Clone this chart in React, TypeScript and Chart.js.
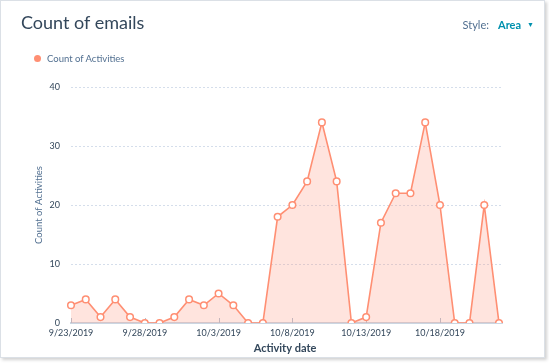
import React, { useEffect, useRef } from "react";
import { Chart, registerables } from "chart.js";

Chart.register(...registerables);

const dates = [
  "9/23/2019", "9/24/2019", "9/25/2019", "9/26/2019", "9/27/2019", "9/28/2019",
  "9/29/2019", "9/30/2019", "10/1/2019", "10/2/2019", "10/3/2019", "10/4/2019",
  "10/5/2019", "10/6/2019", "10/7/2019", "10/8/2019", "10/9/2019", "10/10/2019",
  "10/11/2019", "10/12/2019", "10/13/2019", "10/14/2019", "10/15/2019", "10/16/2019",
  "10/17/2019", "10/18/2019", "10/19/2019", "10/20/2019", "10/21/2019", "10/22/2019",
];
const activityCounts = [
  3, 4, 1, 4, 1, 0, 0, 1, 4, 3, 5, 3, 0, 0, 18, 20, 24, 34, 24, 0, 1, 17, 22, 22, 34, 20, 0, 0, 20, 0,
];
const yTicks = [0, 10, 20, 30, 40];
const labelEvery = 5;
const seriesName = "Count of Activities";

const LINE = "#ff8f73";
const FILL = "rgba(255, 143, 115, 0.24)";
const TEXT = "#33475b";
const SUB = "#516f90";
const GRID = "#d5deeb";
const AXIS = "#cbd6e2";
const FONT = "Lato, 'Open Sans', sans-serif";
const EXTEND = 4;

const extras = {
  id: "extras",
  beforeDatasetsDraw(chart: any) {
    const x = chart.scales.x;
    const y = chart.scales.y;
    const ctx = chart.ctx;
    const right = chart.chartArea.right;
    ctx.save();
    ctx.strokeStyle = GRID;
    ctx.lineWidth = 1;
    ctx.setLineDash([2, 2]);
    yTicks.forEach((v) => {
      if (v === 0) return;
      const py = Math.round(y.getPixelForValue(v)) + 0.5;
      ctx.beginPath();
      ctx.moveTo(right, py);
      ctx.lineTo(right + EXTEND, py);
      ctx.stroke();
    });
    ctx.setLineDash([]);
    const base = y.getPixelForValue(0);
    ctx.strokeStyle = AXIS;
    ctx.lineWidth = 2;
    ctx.beginPath();
    ctx.moveTo(right, base);
    ctx.lineTo(right + EXTEND, base);
    ctx.stroke();
    ctx.strokeStyle = "#b3c1d1";
    ctx.lineWidth = 1;
    dates.forEach((_, i) => {
      if (i % labelEvery === 0) {
        const px = Math.round(x.getPixelForValue(i)) + 0.5;
        ctx.beginPath();
        ctx.moveTo(px, base - 5);
        ctx.lineTo(px, base);
        ctx.stroke();
      }
    });
    ctx.restore();
  },
};

export default function App() {
  const ref = useRef<HTMLCanvasElement>(null);
  useEffect(() => {
    document.body.style.margin = "0";
    const chart = new Chart(ref.current!, {
      type: "line",
      data: {
        labels: dates,
        datasets: [
          {
            label: seriesName,
            data: activityCounts,
            borderColor: LINE,
            backgroundColor: FILL,
            fill: "origin",
            borderWidth: 1.6,
            tension: 0,
            pointRadius: 3.3,
            pointBorderWidth: 1.5,
            pointBackgroundColor: "#ffffff",
            pointBorderColor: LINE,
          },
        ],
      },
      options: {
        animation: false,
        responsive: false,
        maintainAspectRatio: false,
        layout: { padding: { left: 31, right: 45, top: 86, bottom: 0 } },
        plugins: {
          tooltip: { enabled: false },
          legend: { display: false },
        },
        scales: {
          x: {
            type: "category",
            offset: false,
            afterFit: (s: any) => {
              s.height = 34;
            },
            grid: { display: false, drawTicks: false },
            border: { display: true, color: AXIS, width: 2 },
            ticks: {
              autoSkip: false,
              maxRotation: 0,
              minRotation: 0,
              padding: 5,
              color: TEXT,
              font: { family: FONT, size: 9 },
              callback: (_v: any, i: number) => (i % labelEvery === 0 ? dates[i] : ""),
            },
            title: {
              display: true,
              text: "Activity date",
              color: TEXT,
              font: { family: FONT, size: 11, weight: "bold" },
              padding: { top: 0, bottom: 1.5 },
            },
          },
          y: {
            min: 0,
            max: 40,
            afterFit: (s: any) => {
              s.width = 39;
            },
            afterBuildTicks: (s: any) => {
              s.ticks = yTicks.map((v) => ({ value: v }));
            },
            grid: {
              color: (c: any) => (c.tick && c.tick.value === 0 ? "rgba(0,0,0,0)" : GRID),
              drawTicks: false,
            },
            border: { display: false, dash: [2, 2] },
            ticks: {
              padding: 11,
              color: TEXT,
              font: { family: FONT, size: 9 },
            },
            title: {
              display: true,
              text: seriesName,
              color: SUB,
              font: { family: FONT, size: 9.5 },
              padding: { top: 1, bottom: 4 },
            },
          },
        },
      },
      plugins: [extras],
    });
    return () => chart.destroy();
  }, []);

  return (
    <div
      style={{
        position: "absolute",
        left: 0,
        top: 0,
        width: 543,
        height: 356,
        background: "#fff",
        border: "1px solid #dbe0e6",
        boxShadow: "2px 2px 3px rgba(0,0,0,0.18)",
        fontFamily: FONT,
      }}
    >
      <canvas ref={ref} width={543} height={356} style={{ position: "absolute", left: 0, top: 0 }} />
      <div
        style={{
          position: "absolute",
          left: 20,
          top: 9,
          fontSize: 18,
          color: TEXT,
          lineHeight: "24px",
          whiteSpace: "nowrap",
        }}
      >
        Count of emails
      </div>
      <div
        style={{
          position: "absolute",
          right: 10,
          top: 15,
          fontSize: 11,
          color: SUB,
          lineHeight: "16px",
          whiteSpace: "nowrap",
        }}
      >
        Style:
        <span style={{ color: "#0091ae", fontWeight: "bold", marginLeft: 9 }}>Area</span>
        <span style={{ color: "#0091ae", fontSize: 7, marginLeft: 6, verticalAlign: "2px" }}>▼</span>
      </div>
      <div
        style={{
          position: "absolute",
          left: 33,
          top: 50,
          height: 14,
          display: "flex",
          alignItems: "center",
          fontSize: 9.5,
          color: SUB,
          whiteSpace: "nowrap",
        }}
      >
        <span
          style={{
            display: "inline-block",
            width: 7,
            height: 7,
            borderRadius: "50%",
            background: LINE,
            marginRight: 6,
          }}
        />
        {seriesName}
      </div>
    </div>
  );
}
